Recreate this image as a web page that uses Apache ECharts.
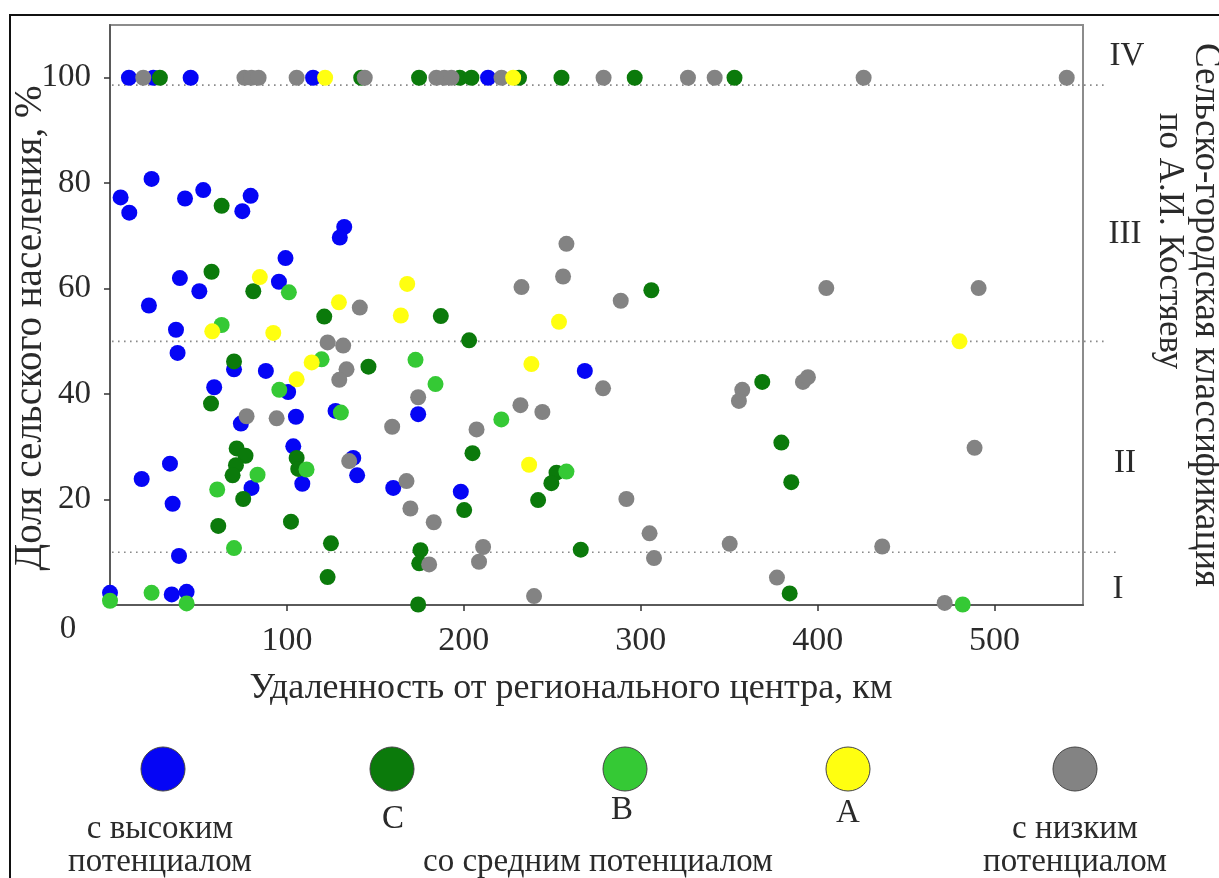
<!DOCTYPE html>
<html><head><meta charset="utf-8">
<script src="https://cdn.jsdelivr.net/npm/echarts@6/dist/echarts.min.js"></script>
<style>html,body{margin:0;padding:0;background:#fff}#c{width:1219px;height:878px}</style>
</head><body><div id="c"></div>
<script>
// ---------- data ----------
const groupNames = ['с высоким потенциалом', 'C', 'B', 'A', 'с низким потенциалом'];
const xTicks = [100, 200, 300, 400, 500];
const yTicks = [20, 40, 60, 80, 100];
const zoneBounds = [10, 50, 98.6];
const zoneLabels = ['I', 'II', 'III', 'IV'];

const highPotential = [
  [10.7,100],[24.5,100],[45.6,100],[114.8,100],[213.7,100],
  [23.5,80.8],[6.0,77.3],[10.9,74.4],[42.4,77.1],[52.7,78.7],[74.8,74.7],[79.5,77.6],
  [132.4,71.7],[129.9,69.7],[99.2,65.8],[39.5,62.0],[95.5,61.3],[50.5,59.5],[22,56.8],
  [37.3,52.2],[38.2,47.8],[70.1,44.7],[88.1,44.4],[58.9,41.3],[100.7,40.4],[174.2,36.2],
  [74,34.4],[105.1,35.7],[127.5,36.8],[103.6,30.1],[137.5,27.9],[33.9,26.8],[139.7,24.6],
  [17.9,23.9],[80,22.2],[108.7,23],[160.1,22.2],[35.4,19.2],[39,9.3],[34.9,2.0],[43.3,2.5],
  [0,2.3],[198.3,21.5],[268.4,44.4]
];
const classC = [
  [28.2,100],[142,100],[174.7,100],[197.7,100],[204.3,100],[231.2,100],[255.2,100],[296.6,100],[353,100],
  [63.1,75.7],[57.4,63.2],[81.0,59.5],[121.1,54.7],[187,54.8],[70.1,46.2],[146.1,45.2],[57.1,38.2],
  [71.6,29.7],[76.6,28.3],[105.5,27.9],[71.2,26.5],[106.4,25.8],[69.3,24.6],[75.3,20.1],[61.2,15.0],
  [102.3,15.8],[124.9,11.7],[175.5,10.4],[174.8,7.9],[123,5.3],[174.2,0.1],[203,50.2],[368.7,42.3],
  [204.9,28.8],[252.4,25.1],[249.5,23.1],[242,19.9],[200.2,18.0],[266.1,10.5],[306,59.7],
  [379.5,30.8],[385.1,23.3],[384.2,2.2]
];
const classB = [
  [101.1,59.3],[63.1,53.1],[119.6,46.6],[172.7,46.5],[184,41.9],[95.7,40.8],[130.5,36.5],
  [111.1,25.7],[83.4,24.7],[60.6,21.9],[70.1,10.8],[23.5,2.3],[43.3,0.3],[0,0.8],[221.2,35.2],
  [258,25.3],[482,0.1]
];
const classA = [
  [121.6,100],[227.9,100],
  [84.7,62.2],[129.4,57.4],[168,60.9],[164.4,54.9],[57.8,51.9],[92.3,51.6],[114,46],[105.5,42.8],
  [253.8,53.7],[238.2,45.7],[236.9,26.6],[480.2,50]
];
const lowPotential = [
  [18.8,100],[76,100],[80,100],[84,100],[105.5,100],[144,100],[184.5,100],[189,100],[193,100],
  [221.3,100],[279,100],[326.7,100],[341.8,100],[426,100],[540.8,100],
  [141.2,56.4],[123,49.8],[131.8,49.2],[133.7,44.7],[129.6,42.7],[174.2,39.4],[77.2,35.8],[94.2,35.4],
  [159.5,33.8],[135.2,27.3],[167.6,23.5],[169.8,18.3],[183,15.7],[180.4,7.7],[278.7,41.1],[357.4,40.8],
  [355.5,38.7],[232,37.9],[244.4,36.6],[207.2,33.3],[291.9,20.1],[305,13.6],[210.9,11],[208.6,8.2],
  [307.5,8.9],[350.3,11.6],[239.7,1.7],[258,68.5],[256.1,62.3],[232.6,60.3],[288.7,57.7],[391.7,42.3],
  [394.5,43.2],[488.7,29.8],[436.5,11.1],[377,5.2],[471.8,0.4],[404.9,60.1],[491,60.1]
];

// ---------- styles ----------
const FONT = '"Liberation Serif", "Times New Roman", serif';
const TXT = '#2a2a2a';
const colors = ['#0505f5', '#0b7a0b', '#35c935', '#ffff10', '#838383'];
const seriesData = [highPotential, classC, classB, classA, lowPotential];
const drawOrder = [0, 1, 2, 4, 3];

const chart = echarts.init(document.getElementById('c'), null, {renderer: 'canvas'});
chart.setOption({
  animation: false,
  backgroundColor: '#fff',
  grid: {left: 110, top: 25, width: 973, height: 580, show: true, borderColor: '#8c8c8c', borderWidth: 2,
    containLabel: false, outerBoundsMode: 'none'},
  xAxis: {
    type: 'value', min: 0, max: 550, interval: 100,
    axisLine: {show: true, onZero: false, lineStyle: {color: '#5a5a5a', width: 2}},
    axisTick: {show: true, length: 6, inside: false, customValues: xTicks, lineStyle: {color: '#333', width: 1.5}},
    axisLabel: {fontFamily: FONT, fontSize: 34, color: TXT, margin: 19, customValues: xTicks,
      formatter: v => xTicks.indexOf(v) >= 0 ? String(v) : ''},
    splitLine: {show: false}
  },
  yAxis: {
    type: 'value', min: 0, max: 110, interval: 20,
    axisLine: {show: true, onZero: false, lineStyle: {color: '#5a5a5a', width: 2}},
    axisTick: {show: true, length: 6, customValues: yTicks, lineStyle: {color: '#333', width: 1.5}},
    axisLabel: {fontFamily: FONT, fontSize: 33, color: TXT, margin: 19, customValues: yTicks,
      formatter: v => yTicks.indexOf(v) >= 0 ? String(v) : ''},
    splitLine: {show: false}
  },
  series: drawOrder.map(i => ({
    name: groupNames[i], type: 'scatter', data: seriesData[i], symbolSize: 16,
    itemStyle: {color: colors[i], opacity: 1}, z: 3, clip: false
  }))
});

// ---------- overlay graphics (titles, zone lines, labels, legend, frame) ----------
const px = (x, y) => chart.convertToPixel({gridIndex: 0}, [x, y]);
const g = [];
g.push({type: 'rect', shape: {x: 10, y: 15, width: 1260, height: 900},
  style: {fill: null, stroke: '#111', lineWidth: 2}, z: 1});
const lineEnds = [1117, 1107, 1107];
zoneBounds.forEach((b, i) => {
  const y = px(0, b)[1];
  g.push({type: 'line', shape: {x1: 112, y1: y, x2: lineEnds[i], y2: y},
    style: {stroke: '#8a8a8a', lineWidth: 1.6, lineDash: [1.6, 4.4]}, z: 2});
});
const zoneLabelPos = [[1118, 589], [1125, 463], [1125, 234], [1127, 56]];
zoneLabels.forEach((t, i) => {
  g.push({type: 'text', x: zoneLabelPos[i][0], y: zoneLabelPos[i][1],
    style: {text: t, font: '33px ' + FONT, fill: TXT, align: 'center', verticalAlign: 'middle'}, z: 5});
});
g.push({type: 'text', x: 68, y: 629, style: {text: '0', font: '33px ' + FONT, fill: TXT, align: 'center', verticalAlign: 'middle'}});
// axis titles
g.push({type: 'text', x: 571, y: 689,
  style: {text: 'Удаленность от регионального центра, км', font: '36px ' + FONT, fill: TXT, align: 'center', verticalAlign: 'middle'}});
g.push({type: 'text', x: 31, y: 328, rotation: Math.PI / 2,
  style: {text: 'Доля сельского населения, %', font: '39px ' + FONT, fill: TXT, align: 'center', verticalAlign: 'middle'}});
g.push({type: 'text', x: 1206, y: 315, rotation: -Math.PI / 2,
  style: {text: 'Сельско-городская классификация', font: '37px ' + FONT, fill: TXT, align: 'center', verticalAlign: 'middle'}});
g.push({type: 'text', x: 1169, y: 241, rotation: -Math.PI / 2,
  style: {text: 'по А.И. Костяеву', font: '35px ' + FONT, fill: TXT, align: 'center', verticalAlign: 'middle'}});

const legendX = [163, 392, 625, 848, 1075];
legendX.forEach((x, i) => {
  g.push({type: 'circle', shape: {cx: x, cy: 769, r: 22},
    style: {fill: colors[i], stroke: '#444', lineWidth: 1}});
});
const legendTexts = [
  ['с высоким', 160, 829], ['потенциалом', 160, 862],
  ['C', 393, 819], ['B', 622, 810], ['A', 848, 813],
  ['со средним потенциалом', 598, 862],
  ['с низким', 1075, 829], ['потенциалом', 1075, 862]
];
legendTexts.forEach(([t, x, y]) => {
  g.push({type: 'text', x: x, y: y,
    style: {text: t, font: '33px ' + FONT, fill: TXT, align: 'center', verticalAlign: 'middle'}});
});
chart.setOption({graphic: g});
</script>
</body></html>
